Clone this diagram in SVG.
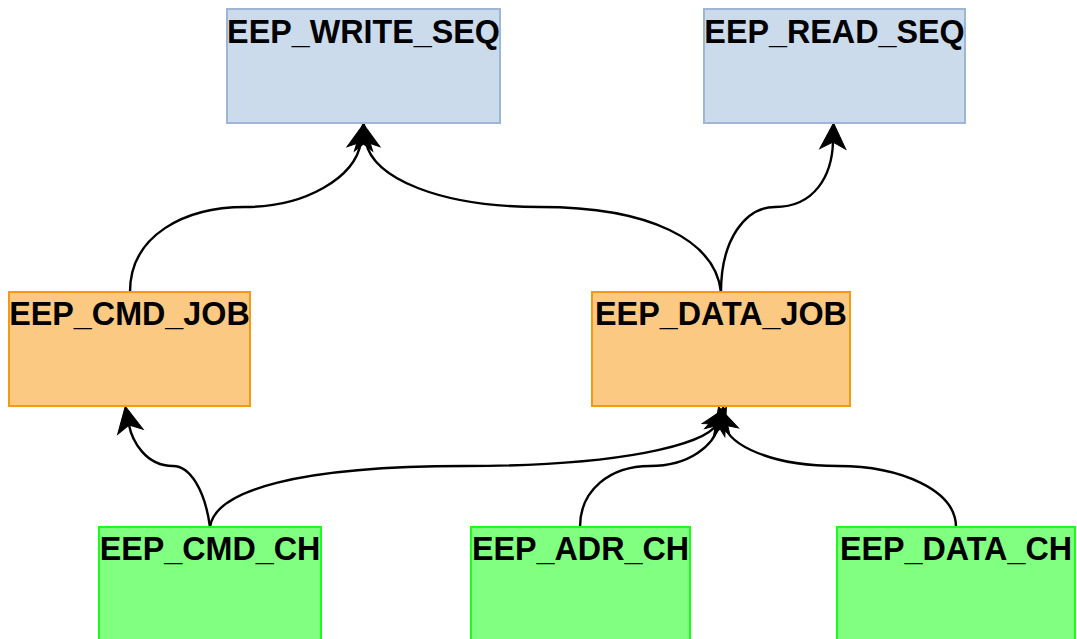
<svg xmlns="http://www.w3.org/2000/svg" width="1077" height="639" viewBox="0 0 1077 639">
<style>
.blue{fill:#ccdbeb;stroke:#9cb6d4;stroke-width:2}
.orange{fill:#fcc982;stroke:#f39a12;stroke-width:2}
.green{fill:#80ff80;stroke:#1aff1a;stroke-width:2}
.lbl{font-family:"Liberation Sans",Arial,sans-serif;font-weight:bold;font-size:32.3px;fill:#000;text-anchor:middle}
.edge{fill:none;stroke:#000;stroke-width:2.4;marker-end:url(#arr)}
</style>
<defs>
<marker id="arr" markerUnits="userSpaceOnUse" markerWidth="40" markerHeight="40" refX="0" refY="0" orient="auto" overflow="visible" viewBox="-20 -20 40 40">
<path d="M19,0 L-7,-13 L0,0 L-7,13 Z" fill="#000" stroke="#000" stroke-width="1"/>
</marker>
</defs>
<rect width="1077" height="639" fill="#fff"/>
<g id="connectors">
<path class="edge" d="M130,292 C130,235 185,207 245,207 C305,207 355,178 361,142"/>
<path class="edge" d="M721,292 C715,240 650,207 540,207 C440,207 372,178 366,142"/>
<path class="edge" d="M721,292 C721,240 745,207 775,207 C815,207 832,175 833,142"/>
<path class="edge" d="M210,527 C205,490 190,466 173,466 C145,466 132,440 129,425"/>
<path class="edge" d="M210,527 C215,490 300,466 465,466 C620,466 705,445 717,424"/>
<path class="edge" d="M580,527 C580,490 610,466 650,466 C690,466 714,445 719,425"/>
<path class="edge" d="M956,527 C956,490 900,466 838,466 C770,466 730,445 724,425"/>
</g>
<g id="EEP_WRITE_SEQ">
<rect class="blue" x="227" y="9" width="273" height="114"/>
<text class="lbl" x="363.5" y="42.5">EEP_WRITE_SEQ</text>
</g>
<g id="EEP_READ_SEQ">
<rect class="blue" x="704" y="9" width="261" height="114"/>
<text class="lbl" x="834.5" y="42.5">EEP_READ_SEQ</text>
</g>
<g id="EEP_CMD_JOB">
<rect class="orange" x="9" y="292" width="241" height="114"/>
<text class="lbl" x="129.5" y="324.5">EEP_CMD_JOB</text>
</g>
<g id="EEP_DATA_JOB">
<rect class="orange" x="592" y="292" width="258" height="114"/>
<text class="lbl" x="721" y="324.5">EEP_DATA_JOB</text>
</g>
<g id="EEP_CMD_CH">
<rect class="green" x="99" y="527" width="222" height="114"/>
<text class="lbl" x="210" y="559.5">EEP_CMD_CH</text>
</g>
<g id="EEP_ADR_CH">
<rect class="green" x="471" y="527" width="219" height="114"/>
<text class="lbl" x="580.5" y="559.5">EEP_ADR_CH</text>
</g>
<g id="EEP_DATA_CH">
<rect class="green" x="837" y="527" width="238" height="114"/>
<text class="lbl" x="956" y="559.5">EEP_DATA_CH</text>
</g>
</svg>
